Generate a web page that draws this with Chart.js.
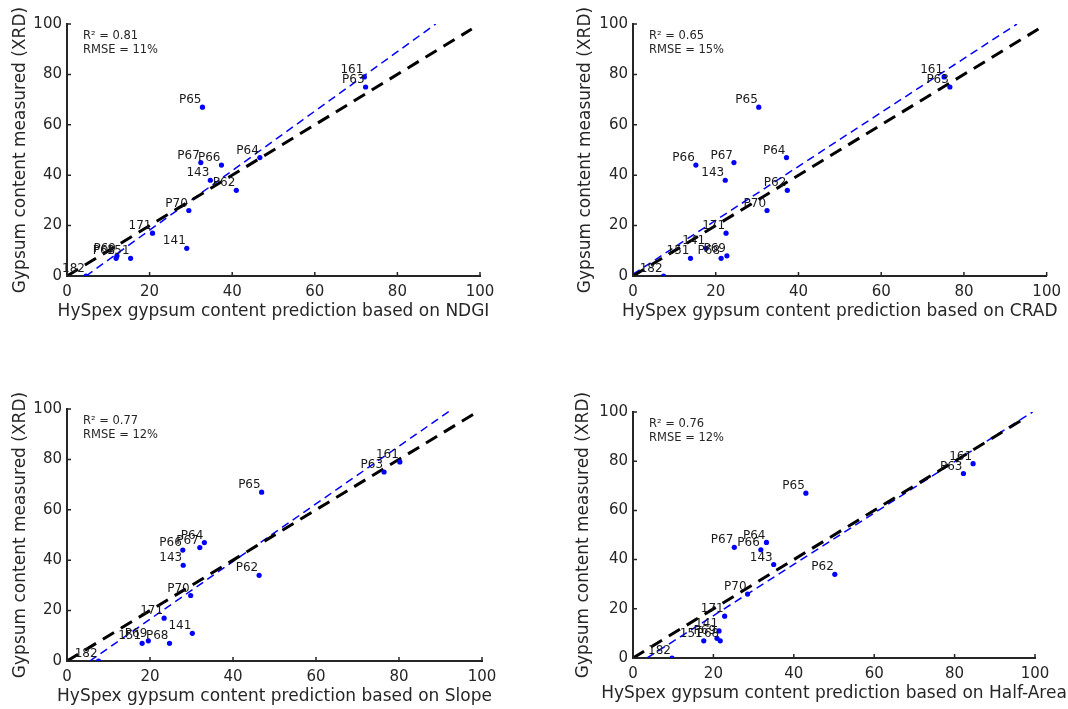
<!DOCTYPE html>
<html>
<head>
<meta charset="utf-8">
<title>Gypsum content: HySpex prediction vs XRD</title>
<script src="https://cdn.jsdelivr.net/npm/chart.js@4.4.1/dist/chart.umd.min.js"></script>
<style>
  html, body { margin: 0; padding: 0; background: #fff; }
  #wrap { position: relative; width: 1068px; height: 709px; overflow: hidden; }
  .panel { position: absolute; }
</style>
</head>
<body>
<div id="wrap">
  <div class="panel" style="left:0px;top:0px"><canvas id="ndgiChart" width="534" height="354"></canvas></div>
  <div class="panel" style="left:534px;top:0px"><canvas id="cradChart" width="534" height="354"></canvas></div>
  <div class="panel" style="left:0px;top:354px"><canvas id="slopeChart" width="534" height="355"></canvas></div>
  <div class="panel" style="left:534px;top:354px"><canvas id="halfAreaChart" width="534" height="355"></canvas></div>
</div>
<script>
// samples and measured XRD gypsum content (%)
var sampleIds = ["161", "P63", "P65", "P64", "P67", "P66", "143", "P62", "P70", "171", "141", "151", "P68", "P69", "182"];
var xrdMeasured = [79, 75, 67, 47, 45, 44, 38, 34, 26, 17, 11, 7, 7, 8, 0];

// HySpex predictions per method (%)
var ndgiPred = [72.0, 72.3, 32.8, 46.7, 32.4, 37.4, 34.7, 41.0, 29.5, 20.7, 29.0, 15.4, 11.9, 12.1, 4.6];
var cradPred = [75.2, 76.6, 30.4, 37.1, 24.4, 15.2, 22.3, 37.3, 32.4, 22.5, 17.7, 13.9, 21.3, 22.7, 7.4];
var slopePred = [80.2, 76.4, 46.9, 33.1, 32.0, 27.9, 28.0, 46.3, 29.8, 23.4, 30.2, 18.1, 24.7, 19.6, 7.6];
var halfAreaPred = [84.6, 82.2, 43.0, 33.2, 25.2, 31.8, 35.0, 50.2, 28.5, 22.8, 21.4, 17.6, 21.7, 20.9, 9.7];

// regression line end points
var fitY = [0, 100];
var ndgiFitX = [4.6, 89.3];
var cradFitX = [0, 92.8];
var cradFitY = [0.7, 100];
var slopeFitX = [5.5, 92.9];
var halfAreaFitX = [3.5, 99.4];

// 1:1 reference line
var oneToOne = [0, 98];

var axisTicks = [0, 20, 40, 60, 80, 100];

var stats = {
  ndgi: ["R\u00B2 = 0.81", "RMSE = 11%"],
  crad: ["R\u00B2 = 0.65", "RMSE = 15%"],
  slope: ["R\u00B2 = 0.77", "RMSE = 12%"],
  halfArea: ["R\u00B2 = 0.76", "RMSE = 12%"],
};

var FONT = "'DejaVu Sans', sans-serif";
var INK = "#262626";

// small inward tick marks on both axes
var inwardTicks = {
  id: "inwardTicks",
  afterDraw: function (chart) {
    var ctx = chart.ctx;
    var xs = chart.scales.x;
    var ys = chart.scales.y;
    var area = chart.chartArea;
    ctx.save();
    ctx.strokeStyle = INK;
    ctx.lineWidth = 1.5;
    ctx.beginPath();
    axisTicks.forEach(function (v) {
      var px = xs.getPixelForValue(v);
      ctx.moveTo(px, area.bottom);
      ctx.lineTo(px, area.bottom - 4);
      var py = ys.getPixelForValue(v);
      ctx.moveTo(area.left, py);
      ctx.lineTo(area.left + 4, py);
    });
    ctx.stroke();
    ctx.restore();
  },
};

// sample names next to each point, the fit statistics and the x axis title
// (drawn here so long titles are not squeezed to the axis width)
var annotate = {
  id: "annotate",
  afterDatasetsDraw: function (chart) {
    var ctx = chart.ctx;
    var meta = chart.getDatasetMeta(0);
    var opts = chart.options.plugins.annotate;
    var area = chart.chartArea;
    ctx.save();
    ctx.fillStyle = "#1a1a1a";
    ctx.font = "12px " + FONT;
    ctx.textAlign = "right";
    ctx.textBaseline = "middle";
    meta.data.forEach(function (pt, i) {
      ctx.fillText(sampleIds[i], pt.x - 1, pt.y - 7);
    });
    ctx.fillStyle = INK;
    ctx.font = "11.5px " + FONT;
    ctx.textAlign = "left";
    ctx.fillText(opts.lines[0], area.left + 16, area.top + 12);
    ctx.fillText(opts.lines[1], area.left + 16, area.top + 26);
    ctx.font = "17px " + FONT;
    ctx.textAlign = "center";
    ctx.fillText(opts.xTitle, (area.left + area.right) / 2, opts.xTitleY);
    ctx.restore();
  },
};

function makeChart(id, predicted, fitX, fitYs, method, statLines, box) {
  var W = 534;
  var H = document.getElementById(id).height;
  var points = predicted.map(function (x, i) {
    return { x: x, y: xrdMeasured[i] };
  });
  var fitLine = fitX.map(function (x, i) {
    return { x: x, y: fitYs[i] };
  });
  var refLine = oneToOne.map(function (v) {
    return { x: v, y: v };
  });
  var titleHalf = 17 * 1.2 / 2;

  return new Chart(document.getElementById(id).getContext("2d"), {
    type: "scatter",
    data: {
      datasets: [
        {
          label: "samples",
          data: points,
          pointRadius: 2.6,
          pointBackgroundColor: "#0000ff",
          pointBorderWidth: 0,
        },
        {
          label: "1:1",
          data: refLine,
          showLine: true,
          borderColor: "#000000",
          borderWidth: 3,
          borderDash: [13, 8],
          pointRadius: 0,
        },
        {
          label: "fit",
          data: fitLine,
          showLine: true,
          borderColor: "#0000ff",
          borderWidth: 1.5,
          borderDash: [8, 5],
          pointRadius: 0,
        },
      ],
    },
    options: {
      responsive: false,
      animation: false,
      layout: {
        padding: { left: 0, top: box.top, right: W - box.right, bottom: 0 },
      },
      plugins: {
        legend: { display: false },
        tooltip: { enabled: false },
        annotate: {
          lines: statLines,
          xTitle: "HySpex gypsum content prediction based on " + method,
          xTitleY: box.xTitle,
        },
      },
      scales: {
        x: {
          type: "linear",
          min: 0,
          max: 100,
          afterFit: function (scale) {
            scale.height = H - box.bottom;
          },
          afterBuildTicks: function (scale) {
            scale.ticks = axisTicks.map(function (v) { return { value: v }; });
          },
          grid: { display: false, drawTicks: false },
          border: { display: true, color: INK, width: 2 },
          ticks: { color: INK, font: { family: FONT, size: 15 }, padding: 7, maxRotation: 0 },
        },
        y: {
          type: "linear",
          min: 0,
          max: 100,
          afterFit: function (scale) {
            scale.width = box.left;
          },
          afterBuildTicks: function (scale) {
            scale.ticks = axisTicks.map(function (v) { return { value: v }; });
          },
          grid: { display: false, drawTicks: false },
          border: { display: true, color: INK, width: 2 },
          ticks: { color: INK, font: { family: FONT, size: 15 }, padding: 5 },
          title: {
            display: true,
            text: "Gypsum content measured (XRD)",
            color: INK,
            font: { family: FONT, size: 17 },
            padding: { top: box.yTitle - titleHalf, bottom: 0 },
          },
        },
      },
    },
    plugins: [inwardTicks, annotate],
  });
}

makeChart("ndgiChart", ndgiPred, ndgiFitX, fitY, "NDGI", stats.ndgi,
  { left: 67, right: 480, top: 24, bottom: 276, xTitle: 311.7, yTitle: 20.5 });
makeChart("cradChart", cradPred, cradFitX, cradFitY, "CRAD", stats.crad,
  { left: 99, right: 514, top: 24, bottom: 276, xTitle: 311.7, yTitle: 52 });
makeChart("slopeChart", slopePred, slopeFitX, fitY, "Slope", stats.slope,
  { left: 67, right: 482, top: 55, bottom: 307, xTitle: 342.7, yTitle: 20.5 });
makeChart("halfAreaChart", halfAreaPred, halfAreaFitX, fitY, "Half-Area", stats.halfArea,
  { left: 99, right: 501, top: 58, bottom: 304, xTitle: 339.5, yTitle: 50 });
</script>
</body>
</html>
